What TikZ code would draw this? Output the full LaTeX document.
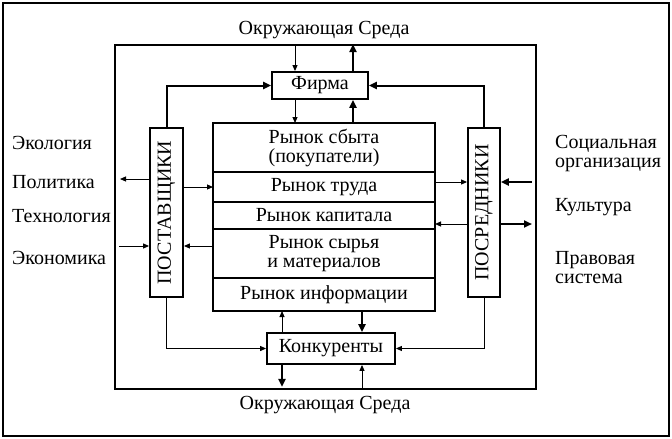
\documentclass[tikz,border=0pt]{standalone}
\usepackage{fontspec}
\setmainfont{Liberation Serif}
\usepackage{tikz}
\usetikzlibrary{calc}
\usetikzlibrary{positioning,arrows.meta}
\tikzset{
  box/.style={draw, line width=1.8pt, inner sep=0pt, align=center},
  row/.style={box, outer sep=0pt, minimum width=222pt},
  arr/.style={-{Triangle[length=4pt 2,width=3pt 2]}, line width=1pt},
  arrthick/.style={arr, line width=2pt},
  lbl/.style={anchor=west, inner sep=0pt, align=left}
}
\begin{document}
\begin{tikzpicture}[x=1pt, y=-1pt, font=\fontsize{20}{22}\selectfont]
    \useasboundingbox (0,0) rectangle (672,439);
    %RAMKA
    \draw[line width=1.5pt] (3,3) rectangle (669,436);
    \node[box, minimum width=421pt, minimum height=344pt] (env) at (325.5,217) {};
    %KOORDINAT
    \coordinate (fx1) at (295,0);
    \coordinate (fx2) at (353,0);
    \coordinate (kx1) at (282,0);
    \coordinate (kx2) at (362,0);
    \coordinate (pl1) at (120,179);
    \coordinate (pl2) at (119,246);
    \coordinate (pr1) at (532,182);
    \coordinate (pr2) at (532,224);
    %KOTAK
    \node[box, minimum width=96pt, minimum height=27pt] (firma) at (320,85.5) {Фирма};
    \node[row, minimum height=49pt] (sbyt) at (324,147.5) {Рынок сбыта\\[-3pt](покупатели)};
    \node[row, minimum height=30pt, below=0pt of sbyt] (trud) {Рынок труда};
    \node[row, minimum height=27pt, below=0pt of trud] (kapital) {Рынок капитала};
    \node[row, minimum height=49pt, below=0pt of kapital] (syrye) {Рынок сырья\\[-3pt]и материалов};
    \node[row, minimum height=33pt, below=0pt of syrye] (info) {Рынок информации};
    \node[box, minimum width=128pt, minimum height=31pt] (konk) at (331,348.5) {Конкуренты};
    \node[box, minimum width=33pt, minimum height=169pt] (post) at (166.5,212.5) {\rotatebox{90}{ПОСТАВЩИКИ}};
    \node[box, minimum width=32pt, minimum height=169pt] (posr) at (484,212.5) {\rotatebox{90}{ПОСРЕДНИКИ}};
    %TEKS
    \node (envtop) at (324,30) {Окружающая Среда};
    \node (envbot) at (325,405) {Окружающая Среда};
    \node[lbl] (ekol) at (12,143) {Экология};
    \node[lbl] (polit) at (12,182) {Политика};
    \node[lbl] (tehn) at (12,216) {Технология};
    \node[lbl] (ekon) at (12,258) {Экономика};
    \node[lbl] (soc) at (555,154) {Социальная\\[-3pt]организация};
    \node[lbl] (kult) at (555,207) {Культура};
    \node[lbl] (prav) at (555,268) {Правовая\\[-3pt]система};
    %PANAH ATAS
    \draw[arr] (env.north -| fx1) -- (firma.north -| fx1);
    \draw[arrthick] (firma.north -| fx2) -- (env.north -| fx2);
    \draw[arr] (firma.south -| fx1) -- (sbyt.north -| fx1);
    \draw[arrthick] (sbyt.north -| fx2) -- (firma.south -| fx2);
    \draw[arrthick] (post.north) |- (firma.west);
    \draw[arrthick] (posr.north) |- (firma.east);
    %PANAH KIRI
    \draw[arr] (post.west |- pl1) -- (pl1);
    \draw[arr] (post.east |- trud.west) -- (trud.west);
    \draw[arr] (pl2) -- (post.west |- pl2);
    \draw[arr] (syrye.west |- pl2) -- (post.east |- pl2);
    %PANAH KANAN
    \draw[arr] (trud.east |- pr1) -- (posr.west |- pr1);
    \draw[arrthick] (pr1) -- (posr.east |- pr1);
    \draw[arr] (posr.west |- pr2) -- (kapital.east |- pr2);
    \draw[arrthick] (posr.east |- pr2) -- (pr2);
    %PANAH BAWAH
    \draw[arr] (post.south) |- (konk.west);
    \draw[arr] (posr.south) |- (konk.east);
    \draw[arr] (konk.north -| kx1) -- (info.south -| kx1);
    \draw[arrthick] (info.south -| kx2) -- (konk.north -| kx2);
    \draw[arrthick, shorten >=3pt] (konk.south -| kx1) -- (env.south -| kx1);
    \draw[arr] (env.south -| kx2) -- (konk.south -| kx2);
\end{tikzpicture}
\end{document}
